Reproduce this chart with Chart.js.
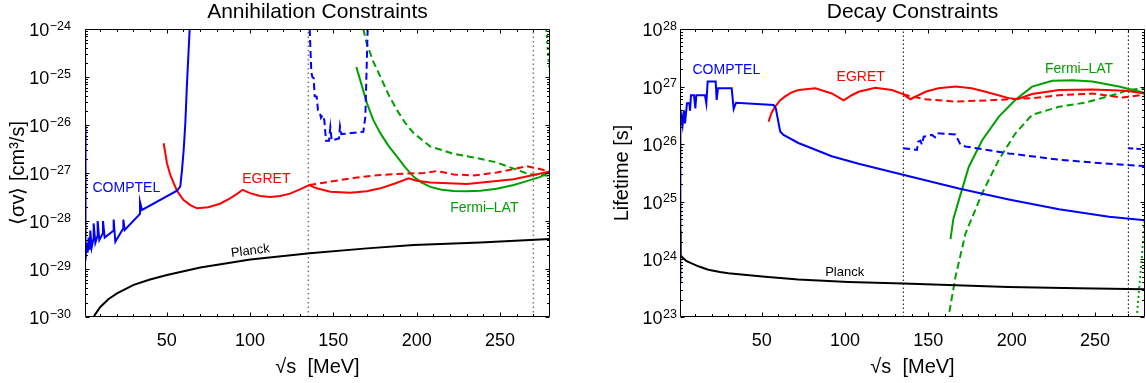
<!DOCTYPE html>
<html><head><meta charset="utf-8">
<script src="https://cdn.jsdelivr.net/npm/chart.js@4.4.1/dist/chart.umd.min.js"></script>
<style>
html,body{margin:0;padding:0;background:#fff;}
#wrap{position:relative;width:1146px;height:383px;overflow:hidden;background:#fff;}
#c1{position:absolute;left:0;top:0;}
#c2{position:absolute;left:573px;top:0;}
</style></head><body>
<div id="wrap"><canvas id="c1" width="573" height="383"></canvas><canvas id="c2" width="573" height="383"></canvas></div>
<script>
// ---------------- data: Annihilation panel (x = sqrt(s) in MeV, y = <sigma v> in cm^3/s)
const annComptel = [[1.05,1.0e-26],[1.3,1.5e-29],[2.0,3.5e-29],[2.6,2.2e-29],[3.2,4.5e-29],[3.8,2.5e-29],[4.2,6.3e-29],[5.0,2.8e-29],[6.2,4.5e-29],[6.2,8.9e-29],[7.2,3.5e-29],[8.6,5.0e-29],[8.6,1.0e-28],[9.6,4.0e-29],[11.8,5.6e-29],[11.8,1.0e-28],[12.8,4.5e-29],[18.2,6.3e-29],[18.2,1.07e-28],[19.2,3.7e-29],[24.0,7.1e-29],[24.0,1.07e-28],[24.8,6.5e-29],[34.0,1.41e-28],[34.0,2.5e-28],[35.2,1.7e-28],[56.2,4.27e-28],[58.2,5.25e-28],[59.2,1.15e-27],[60.2,3.0e-27],[61.2,1.1e-26],[62.2,7.4e-26],[63.8,1.0e-24],[64.5,3.0e-24]];
const annComptelDashed = [[135.8,1.0e-24],[136.8,1.26e-25],[137.4,1.0e-25],[138.2,9.55e-26],[138.8,3.98e-26],[140.0,3.89e-26],[140.8,2.04e-26],[141.8,1.91e-26],[142.6,1.41e-26],[143.6,1.62e-26],[144.6,1.26e-26],[145.6,4.68e-27],[147.4,4.68e-27],[148.2,8.91e-27],[149.0,4.79e-27],[153.4,5.25e-27],[154.0,9.33e-27],[154.8,6.46e-27],[168.0,7.24e-27],[169.2,1.48e-26],[170.6,1.0e-24]];
const annEgret = [[48.2,4.17e-27],[50.2,1.58e-27],[52.2,9.12e-28],[54.2,6.17e-28],[56.2,4.27e-28],[60,2.75e-28],[64.2,2.14e-28],[68.2,1.84e-28],[75,1.93e-28],[82,2.29e-28],[88,2.95e-28],[92,3.63e-28],[95.6,4.47e-28],[100,3.8e-28],[106,3.31e-28],[112.2,3.16e-28],[118,3.31e-28],[124,3.72e-28],[130,4.57e-28],[135.5,5.62e-28],[140,4.79e-28],[148.2,4.07e-28],[160.2,3.89e-28],[170,4.17e-28],[178.2,4.79e-28],[187,6.03e-28],[195.2,7.76e-28],[200,6.92e-28],[208.2,6.31e-28],[230.2,5.89e-28],[258.2,7.41e-28],[280,1.07e-27]];
const annEgretDashed = [[135.5,5.62e-28],[148.2,6.61e-28],[163,7.94e-28],[178.2,9.12e-28],[195,9.77e-28],[204.2,1.0e-27],[212.2,1.10e-27],[222.2,9.33e-28],[234.2,8.91e-28],[248,1.02e-27],[258,1.2e-27],[266,1.38e-27],[272,1.26e-27],[280,1.07e-27]];
const annFermi = [[163.8,1.62e-25],[166,8.91e-26],[170.2,2.82e-26],[174,1.26e-26],[178.2,6.76e-27],[183,3.72e-27],[188.2,2.19e-27],[193,1.32e-27],[198.2,8.32e-28],[203,6.31e-28],[208.2,5.13e-28],[215,4.47e-28],[222.2,4.22e-28],[230,4.17e-28],[238.2,4.27e-28],[248,4.68e-28],[258.2,5.62e-28],[266,6.76e-28],[274.2,8.32e-28],[280,1.07e-27]];
const annFermiDashed = [[168,1.0e-24],[170,5.01e-25],[174,2.09e-25],[178.2,1.02e-25],[183,4.37e-26],[188.2,2.04e-26],[193,1.12e-26],[198.2,6.76e-27],[208.2,3.55e-27],[215,3.02e-27],[222,2.51e-27],[235,2.09e-27],[248,1.66e-27],[255,1.35e-27],[267,9.55e-28],[280,8.71e-28]];
const annFermiDashedEdge = [[277.8,1.0e-24],[278.6,4.0e-25],[279.3,1.95e-25],[280,1.3e-25]];
const annPlanck = [[5.0,7.08e-31],[5.8,9.33e-31],[7,1.12e-30],[10.2,1.62e-30],[15,2.34e-30],[20.2,3.09e-30],[30.2,4.68e-30],[40,6.03e-30],[50.2,7.5e-30],[70.2,1.07e-29],[100.2,1.58e-29],[135.8,2.14e-29],[170.2,2.69e-29],[198.2,3.16e-29],[238.2,3.55e-29],[280,4.22e-29]];

// ---------------- data: Decay panel (y = lifetime in s)
const decComptel = [[1.02,3.98e23],[1.05,2.82e26],[1.4,2.0e26],[2.0,3.02e26],[2.6,2.19e26],[3.4,3.89e26],[4.0,2.29e26],[4.6,3.47e26],[5.2,5.13e26],[6.6,5.13e26],[7.0,3.8e26],[7.6,7.08e26],[9.4,7.08e26],[10.2,4.17e26],[10.8,7.08e26],[16.0,7.08e26],[16.8,5.13e26],[17.6,1.23e27],[22.4,1.23e27],[23.0,5.89e26],[23.8,9.33e26],[32.0,9.33e26],[33.2,4.07e26],[34.6,5.25e26],[57.1,4.79e26],[58.5,4.17e26],[61.1,1.66e26],[63.1,1.45e26],[72,1.05e26],[80,8.51e25],[92,6.17e25],[108.2,4.57e25],[134.8,2.95e25],[168.3,1.70e25],[198.3,1.10e25],[228.4,7.41e24],[258.4,5.5e24],[280,4.79e24]];
const decComptelDashed = [[134.8,8.51e25],[143.2,7.94e25],[143.8,1.10e26],[145.2,1.15e26],[146.2,9.77e25],[147.2,1.35e26],[152.2,1.45e26],[154,1.32e26],[155.2,1.55e26],[166.3,1.48e26],[169.3,9.77e25],[172.3,9.12e25],[198.3,6.92e25],[228.4,5.37e25],[258.4,4.57e25],[280,4.17e25]];
const decComptelDashedEdge = [[270,8.51e25],[280,8.13e25]];
const decEgret = [[54.1,2.45e26],[56,3.55e26],[58.1,4.47e26],[61,5.75e26],[64.1,6.76e26],[68,7.94e26],[72.1,8.71e26],[82.2,9.33e26],[92.1,7.59e26],[99.2,5.75e26],[104,7.08e26],[108.2,8.13e26],[118.2,9.55e26],[128.2,8.71e26],[134.8,7.41e26],[139.2,6.03e26],[148.3,8.13e26],[156,9.33e26],[166.3,1.0e27],[176,9.33e26],[184.3,8.13e26],[192,7.08e26],[198.3,6.31e26],[203.3,6.03e26],[212.3,7.41e26],[228.4,8.71e26],[248.4,8.91e26],[268.4,8.51e26],[280,7.59e26]];
const decEgretDashed = [[134.8,7.41e26],[138.2,6.92e26],[148.3,6.03e26],[166.3,5.5e26],[184.3,5.75e26],[198.3,6.03e26],[212.3,6.31e26],[228.4,7.08e26],[248.4,7.59e26],[266.4,6.46e26],[280,7.24e26]];
const decFermi = [[163.3,2.24e24],[165,5.01e24],[168.3,1.07e25],[174.3,4.07e25],[182.3,1.17e26],[192.3,3.02e26],[202.3,5.89e26],[212.3,1.0e27],[224.4,1.26e27],[236.4,1.29e27],[248.4,1.23e27],[264.4,1.0e27],[280,7.76e26]];
const decFermiDashed = [[161.5,7.94e22],[166.3,5.01e23],[172.3,2.82e24],[182.3,1.41e25],[192.3,5.37e25],[202.3,1.55e26],[212.3,3.24e26],[228.4,4.47e26],[244,5.25e26],[264,7.59e26],[270,8.71e26],[280,9.33e26]];
const decFermiDashedEdge = [[274.8,7.94e22],[276.5,3.16e23],[278,1.0e24],[279.7,4.47e24],[280,5.62e24]];
const decPlanck = [[1.02,3.16e24],[1.3,1.17e24],[3,1.05e24],[5,9.33e23],[8,8.51e23],[12,7.59e23],[18,6.61e23],[25,6.03e23],[30,5.75e23],[52,5.01e23],[72,4.47e23],[102,4.07e23],[135,3.8e23],[198,3.31e23],[240,3.16e23],[280,3.02e23]];

// ---------------- axes / ticks
const xRange = [1, 280];
const xMajorTicks = [50, 100, 150, 200, 250];
const xMinorTicks = [10,20,30,40,60,70,80,90,110,120,130,140,160,170,180,190,210,220,230,240,260,270];
const annDecades = [-30,-29,-28,-27,-26,-25,-24];
const decDecades = [23,24,25,26,27,28];
const thresholds = [135, 270];   // m_pi0 and 2 m_pi0

const FONT = '"Liberation Sans", Arial, Helvetica, sans-serif';
const BLUE = '#0000ff', RED = '#ff0000', GREEN = '#00a000';
const minorLog = decs => { const out = []; decs.slice(0, -1).forEach(d => { for (let m = 2; m <= 9; m++) out.push(m * Math.pow(10, d)); }); return out; };

// frame ticks (inward, on all four sides) and 10^n tick labels, placed through the chart's own scales
const framePlugin = {
  id: 'frame',
  afterDatasetsDraw(chart, args, o) {
    const {ctx, chartArea: a} = chart, xs = chart.scales.x, ys = chart.scales.y;
    const L = Math.round(a.left) + 0.5, R = Math.round(a.right) - 0.5, T = Math.round(a.top) + 0.5, B = Math.round(a.bottom) - 0.5;
    ctx.save();
    ctx.strokeStyle = '#000'; ctx.lineWidth = 1;
    ctx.beginPath();
    ctx.moveTo(L, T); ctx.lineTo(R, T); ctx.lineTo(R, B); ctx.lineTo(L, B); ctx.closePath();
    const xt = (vals, len) => vals.forEach(v => {
      const p = Math.round(xs.getPixelForValue(v)) + 0.5;
      ctx.moveTo(p, B); ctx.lineTo(p, B - len);
      ctx.moveTo(p, T); ctx.lineTo(p, T + len);
    });
    const yt = (vals, len) => vals.forEach(v => {
      const p = Math.round(ys.getPixelForValue(v)) + 0.5;
      ctx.moveTo(L, p); ctx.lineTo(L + len, p);
      ctx.moveTo(R, p); ctx.lineTo(R - len, p);
    });
    xt(xMajorTicks, 4); xt(xMinorTicks, 2.5);
    yt(o.decades.map(d => Math.pow(10, d)), 4); yt(minorLog(o.decades), 2.5);
    ctx.stroke();
    // 10^n labels
    ctx.fillStyle = '#000';
    ctx.textBaseline = 'alphabetic';
    ctx.textAlign = 'right';
    o.decades.forEach(d => {
      const p = ys.getPixelForValue(Math.pow(10, d));
      const exp = (d < 0 ? '\u2212' : '') + String(Math.abs(d));
      ctx.font = '12.5px ' + FONT;
      const w = ctx.measureText(exp).width;
      ctx.fillText(exp, o.labelRight, p + 0.5);
      ctx.font = '18px ' + FONT;
      ctx.fillText('10', o.labelRight - w - 0.5, p + 7);
    });
    ctx.restore();
  }
};

const curveLabels = {
  id: 'curveLabels',
  afterDatasetsDraw(chart, args, opts) {
    const {ctx} = chart, xs = chart.scales.x, ys = chart.scales.y;
    ctx.save();
    for (const l of opts.items || []) {
      const px = xs.getPixelForValue(l.x), py = ys.getPixelForValue(l.y);
      ctx.save();
      ctx.translate(px, py);
      ctx.rotate((l.rot || 0) * Math.PI / 180);
      ctx.font = l.size + 'px ' + FONT;
      ctx.fillStyle = l.color;
      ctx.textAlign = 'center';
      ctx.textBaseline = 'middle';
      ctx.fillText(l.text, 0, 0);
      ctx.restore();
    }
    ctx.restore();
  }
};

function ds(data, color, dash, extra) {
  return Object.assign({
    data: data.map(([x, y]) => ({x, y})), borderColor: color, backgroundColor: color,
    borderWidth: 2, borderDash: dash || [], pointRadius: 0, pointHoverRadius: 0,
    showLine: true, fill: false, tension: 0, xAxisID: 'x', yAxisID: 'y', clip: 0
  }, extra || {});
}

function build(canvas, o) {
  const yMin = Math.pow(10, o.decades[0]), yMax = Math.pow(10, o.decades[o.decades.length - 1]);
  const guide = thresholds.map(t => ds([[t, yMin], [t, yMax]], o.guideColor, o.guideDash, {borderWidth: o.guideWidth, order: 10}));
  return new Chart(canvas, {
    type: 'scatter',
    data: {datasets: guide.concat(o.datasets)},
    options: {
      responsive: false, animation: false, devicePixelRatio: 1,
      layout: {padding: {left: 0, right: o.padRight, top: 0, bottom: 0}},
      scales: {
        x: {type: 'linear', position: 'bottom', min: xRange[0], max: xRange[1],
          afterBuildTicks: s => { s.ticks = xMajorTicks.map(v => ({value: v})); },
          afterFit: s => { s.height = 66; },
          grid: {display: false}, border: {display: false},
          ticks: {display: true, autoSkip: false, maxRotation: 0, padding: 5, color: '#000', font: {family: FONT, size: 18}, callback: v => String(v)},
          title: {display: true, text: '√s  [MeV]', color: '#000', font: {family: FONT, size: 20}, padding: {top: 0, bottom: 4}}},
        y: {type: 'logarithmic', position: 'left', min: yMin, max: yMax,
          afterBuildTicks: s => { s.ticks = o.decades.map(d => ({value: Math.pow(10, d)})); },
          afterFit: s => { s.width = o.yWidth; },
          grid: {display: false}, border: {display: false},
          ticks: {display: false},
          title: {display: true, text: o.yTitle, color: '#000', font: {family: FONT, size: 20}, padding: {top: o.yTitlePad, bottom: 0}}}
      },
      plugins: {
        legend: {display: false}, tooltip: {enabled: false},
        title: {display: true, text: o.title, color: '#000', fullSize: false, font: {family: FONT, size: 21, weight: 'normal'}, padding: {top: 0, bottom: 3.8}},
        curveLabels: {items: o.labels},
        frame: {decades: o.decades, labelRight: o.labelRight}
      }
    },
    plugins: [framePlugin, curveLabels]
  });
}

build(document.getElementById('c1'), {
  title: 'Annihilation Constraints', yTitle: '⟨σv⟩ [cm³/s]', decades: annDecades,
  yWidth: 85, labelRight: 71, yTitlePad: 6, padRight: 23,
  guideColor: '#777777', guideDash: [1.5, 3], guideWidth: 1.5,
  datasets: [
    ds(annPlanck, '#000'),
    ds(annComptel, BLUE), ds(annComptelDashed, BLUE, [7, 4]),
    ds(annEgret, RED), ds(annEgretDashed, RED, [7, 4]),
    ds(annFermi, GREEN), ds(annFermiDashed, GREEN, [7, 4]), ds(annFermiDashedEdge, GREEN, [3, 3])
  ],
  labels: [
    {text: 'COMPTEL', x: 25.8, y: 4.9e-28, color: BLUE, size: 14},
    {text: 'EGRET', x: 109.8, y: 7.5e-28, color: RED, size: 14},
    {text: 'Fermi–LAT', x: 240.6, y: 1.86e-28, color: GREEN, size: 14},
    {text: 'Planck', x: 100.2, y: 2.37e-29, color: '#000', size: 13, rot: -7}
  ]
});

build(document.getElementById('c2'), {
  title: 'Decay Constraints', yTitle: 'Lifetime [s]', decades: decDecades,
  yWidth: 107, labelRight: 104, yTitlePad: 37, padRight: 1,
  guideColor: '#000000', guideDash: [1.5, 2.5], guideWidth: 1,
  datasets: [
    ds(decPlanck, '#000'),
    ds(decComptel, BLUE), ds(decComptelDashed, BLUE, [7, 4]), ds(decComptelDashedEdge, BLUE, [5, 3]),
    ds(decEgret, RED), ds(decEgretDashed, RED, [7, 4]),
    ds(decFermi, GREEN), ds(decFermiDashed, GREEN, [7, 4]), ds(decFermiDashedEdge, GREEN, [2, 3])
  ],
  labels: [
    {text: 'COMPTEL', x: 28.8, y: 1.94e27, color: BLUE, size: 14},
    {text: 'EGRET', x: 109.4, y: 1.47e27, color: RED, size: 14},
    {text: 'Fermi–LAT', x: 240.4, y: 2.02e27, color: GREEN, size: 14},
    {text: 'Planck', x: 99.8, y: 6.0e23, color: '#000', size: 13}
  ]
});
</script></body></html>
